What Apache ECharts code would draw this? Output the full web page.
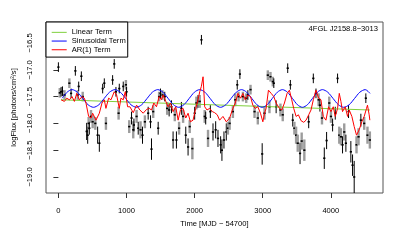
<!DOCTYPE html>
<html><head><meta charset="utf-8">
<script src="https://cdn.jsdelivr.net/npm/echarts@6/dist/echarts.min.js"></script>
<style>html,body{margin:0;padding:0;background:#fff}#c{width:407px;height:251px}</style>
</head><body><div id="c"></div>
<script>
// ---- data ----
const chartLabel = "4FGL J2158.8\u22123013";
const xTicks = [0, 1000, 2000, 3000, 4000];
const yTicks = [-16.5, -17.0, -17.5, -18.0, -18.5, -19.0];

const times = [0,20,40,60,90,161,186,249,283,298,337,357,
415,430,444,454,479,503,542,576,601,650,674,698,
796,820,845,884,894,952,991,1001,1040,1074,1099,1109,
1148,1172,1206,1235,1270,1318,1353,1367,1392,1465,1479,1499,
1528,1562,1597,1626,1660,1684,1709,1733,1772,1806,1831,1870,
1904,1928,1967,2001,2026,2050,2075,2100,2148,2163,2197,2231,
2270,2309,2343,2382,2401,2431,2465,2489,2514,2562,2597,2626,
2645,2665,2709,2758,2782,2821,2880,2928,2992,3026,3075,3099,
3114,3148,3163,3197,3260,3294,3367,3406,3441,3465,3490,3514,
3548,3572,3611,3675,3743,3782,3821,3840,3870,3904,3938,3977,
4002,4026,4065,4099,4124,4148,4172,4197,4221,4260,4294,4319,
4343,4377,4407,4441,4490,4514,4538,4573];

const logFlux = [-16.95,-17.43,-17.41,-17.40,-17.47,-17.25,-17.44,-17.02,-17.47,-17.31,-17.12,-17.50,
-18.15,-18.22,-18.00,-18.09,-17.87,-17.97,-18.00,-18.22,-18.37,-17.35,-17.25,-18.00,
-17.19,-16.89,-17.41,-17.81,-17.35,-17.31,-17.28,-17.41,-18.06,-17.90,-18.12,-18.03,
-17.87,-18.09,-18.12,-18.22,-17.97,-17.81,-17.97,-18.48,-17.78,-18.09,-17.50,-17.44,
-17.47,-17.50,-17.72,-17.75,-17.69,-18.31,-17.84,-18.31,-18.09,-17.72,-17.87,-18.22,
-18.44,-18.06,-18.47,-17.81,-17.62,-17.59,-17.59,-16.44,-17.87,-17.90,-18.28,-17.78,
-18.16,-18.12,-18.28,-18.40,-18.50,-18.31,-18.16,-18.09,-18.00,-17.78,-17.56,-17.28,
-17.50,-17.08,-17.50,-17.53,-17.47,-17.37,-17.78,-17.90,-18.57,-17.81,-17.10,-17.69,
-17.13,-17.22,-17.25,-17.69,-17.75,-17.84,-16.97,-17.28,-17.94,-18.09,-18.22,-18.37,
-18.56,-18.33,-18.50,-17.97,-17.16,-17.44,-17.56,-17.66,-17.90,-18.65,-18.32,-17.62,
-17.87,-18.03,-17.81,-17.16,-18.22,-18.25,-18.40,-18.16,-18.37,-17.78,-18.53,-18.78,
-19.00,-18.40,-18.25,-17.94,-18.00,-17.53,-18.22,-18.31];

const fluxErr = [0.09,0.09,0.09,0.09,0.09,0.09,0.09,0.09,0.09,0.09,0.09,0.09,
0.16,0.16,0.12,0.12,0.12,0.12,0.12,0.16,0.16,0.09,0.09,0.12,
0.09,0.09,0.09,0.12,0.09,0.09,0.09,0.09,0.12,0.12,0.16,0.12,
0.12,0.12,0.16,0.16,0.12,0.12,0.12,0.20,0.12,0.12,0.09,0.09,
0.09,0.09,0.12,0.12,0.12,0.16,0.12,0.16,0.12,0.12,0.12,0.16,
0.16,0.12,0.20,0.12,0.12,0.12,0.12,0.09,0.12,0.12,0.16,0.12,
0.16,0.16,0.16,0.16,0.20,0.16,0.16,0.12,0.12,0.12,0.12,0.09,
0.09,0.09,0.09,0.09,0.09,0.09,0.12,0.12,0.20,0.12,0.09,0.12,
0.09,0.09,0.09,0.12,0.12,0.12,0.09,0.09,0.12,0.12,0.16,0.16,
0.20,0.16,0.20,0.12,0.09,0.09,0.12,0.12,0.12,0.20,0.16,0.12,
0.12,0.12,0.12,0.09,0.16,0.16,0.16,0.16,0.16,0.12,0.20,0.20,
0.30,0.16,0.16,0.12,0.12,0.09,0.16,0.16];

// 1 = point drawn with a grey (wide) error bar, 0 = black error bar
const greyBar = [0,1,0,0,1,1,0,0,1,0,0,1,
0,0,1,0,1,1,1,0,0,0,0,1,
0,0,0,1,0,0,1,0,1,0,1,0,
1,0,1,0,1,0,0,0,1,0,1,0,
1,0,1,0,0,0,1,0,1,0,1,0,
0,1,1,0,1,0,1,0,1,0,1,0,
0,0,0,0,0,0,0,1,1,1,1,0,
1,0,1,1,0,1,1,1,0,1,1,1,
1,1,0,0,1,1,0,0,0,1,1,1,
0,1,1,0,0,0,1,0,1,0,0,1,
1,0,0,0,1,1,0,1,0,0,0,0,
0,1,1,0,1,0,1,1];

const linTimes = [40, 4573];
const linValues = [-17.56, -17.75];

const sinTimes = [55,128,200,279,358,436,515,594,672,751,830,909,988,1066,1145,1223,1302,1380,1459,1535,1612,1689,1766,1843,1920,1997,2074,2151,2228,2304,2381,2458,2535,2612,2689,2764,2840,2915,2990,3065,3140,3215,3290,3363,3437,3510,3583,3656,3730,3803,3876,3955,4033,4111,4190,4269,4348,4426,4505,4575];
const sinValues = [-17.53,-17.418,-17.37,-17.418,-17.535,-17.652,-17.70,-17.652,-17.535,-17.418,-17.37,-17.418,-17.535,-17.652,-17.70,-17.652,-17.535,-17.418,-17.37,-17.418,-17.535,-17.652,-17.70,-17.652,-17.535,-17.418,-17.37,-17.418,-17.535,-17.652,-17.70,-17.652,-17.535,-17.418,-17.37,-17.418,-17.535,-17.652,-17.70,-17.652,-17.535,-17.418,-17.37,-17.418,-17.535,-17.652,-17.70,-17.652,-17.535,-17.418,-17.37,-17.418,-17.535,-17.652,-17.70,-17.652,-17.535,-17.418,-17.37,-17.44];

const arTimes = [40,88,123,161,200,235,269,308,347,381,405,444,479,503,552,601,640,674,698,737,772,820,855,894,918,952,982,1016,
1050,1099,1148,1196,1245,1294,1333,1367,1401,1440,1479,1513,1538,1577,1611,1645,1684,1723,1758,1792,1831,1870,1904,1938,1977,2016,
2050,2075,2099,2124,2148,2182,2221,2260,2294,2333,2367,2416,2465,2514,2562,2597,2636,2675,2709,2743,2782,2821,2855,2889,2928,2967,
3002,3026,3050,3084,3124,3163,3197,3245,3280,3319,3358,3392,3426,3455,3490,3524,3563,3602,3636,3675,3709,3743,3782,3821,3855,3889,
3928,3967,4002,4036,4065,4099,4124,4148,4172,4211,4246,4270,4309,4343,4377,4416,4455,4490,4524,4538,4563,4573];
const arValues = [-17.56,-17.59,-17.53,-17.56,-17.50,-17.59,-17.44,-17.56,-17.50,-17.53,-17.62,-17.87,-17.90,-17.81,-17.94,-17.81,-17.62,-17.56,-17.72,-17.53,-17.56,-17.41,-17.47,-17.72,-17.53,-17.56,-17.41,-17.69,
-17.69,-17.80,-17.66,-17.75,-17.81,-17.74,-17.72,-17.75,-17.62,-17.69,-17.50,-17.56,-17.47,-17.59,-17.69,-17.62,-17.78,-17.69,-17.94,-17.75,-17.72,-17.90,-17.81,-17.97,-17.94,-17.72,
-17.56,-17.41,-17.31,-17.13,-17.69,-17.75,-17.72,-17.78,-17.80,-17.84,-17.94,-17.87,-17.97,-17.90,-17.72,-17.62,-17.44,-17.53,-17.44,-17.56,-17.47,-17.50,-17.66,-17.72,-17.69,-17.81,
-17.97,-17.81,-17.72,-17.38,-17.44,-17.50,-17.62,-17.72,-17.75,-17.62,-17.44,-17.38,-17.56,-17.72,-17.87,-17.84,-17.95,-17.98,-17.94,-17.84,-17.75,-17.56,-17.38,-17.53,-17.56,-17.87,
-17.94,-17.69,-17.78,-17.69,-17.87,-17.72,-17.44,-17.59,-17.78,-17.69,-17.87,-17.75,-17.87,-18.06,-18.22,-18.12,-17.97,-17.87,-17.72,-17.66,-17.84,-17.94];

// ---- build ----
const zip = (a, b) => a.slice(0, Math.min(a.length, b.length)).map((v, i) => [v, b[i]]);
const n = Math.min(times.length, logFlux.length, fluxErr.length);
const pts = [];
for (let i = 0; i < n; i++) pts.push([times[i], logFlux[i], fluxErr[i], greyBar[i] || 0]);

const FONT = "'Liberation Sans', Arial, Helvetica, sans-serif";
const FS = 7.6;
const fmtY = v => (v < 0 ? '\u2212' : '') + Math.abs(v).toFixed(1);
const fmtX = v => String(Math.round(v));

const chart = echarts.init(document.getElementById('c'), null, {renderer: 'canvas'});
chart.setOption({
  animation: false,
  backgroundColor: '#fff',
  textStyle: {fontFamily: FONT},
  title: {
    text: chartLabel, right: 29, top: 25, padding: 0,
    textStyle: {fontFamily: FONT, fontSize: FS, fontWeight: 'normal', color: '#000'}
  },
  grid: {left: 46, top: 22, width: 337, height: 171, show: true, borderColor: '#555', borderWidth: 1, backgroundColor: 'transparent'},
  legend: {
    left: 46, top: 22, orient: 'vertical', backgroundColor: '#fff',
    borderColor: '#000', borderWidth: 1, borderRadius: 0,
    padding: [6, 2, 3, 5.7], itemGap: 0, itemWidth: 15, itemHeight: 1,
    icon: 'rect',
    textStyle: {fontFamily: FONT, fontSize: FS, color: '#000', lineHeight: 8.7},
    data: ['Linear Term', 'Sinusoidal Term', 'AR(1) Term']
  },
  xAxis: {
    type: 'value', min: -182, max: 4766,
    name: 'Time [MJD \u2212 54700]', nameLocation: 'middle', nameGap: 23,
    nameTextStyle: {fontFamily: FONT, fontSize: FS, color: '#000'},
    axisLine: {show: false},
    splitLine: {show: false},
    axisTick: {show: true, inside: false, length: 5, customValues: xTicks, lineStyle: {color: '#333'}},
    axisLabel: {customValues: xTicks, margin: 14, fontFamily: FONT, fontSize: FS, color: '#000', formatter: fmtX}
  },
  yAxis: {
    type: 'value', min: -19.299, max: -16.108,
    name: 'logFlux [photons/cm\u00b2/s]', nameLocation: 'middle', nameGap: 25, nameRotate: 90,
    nameTextStyle: {fontFamily: FONT, fontSize: FS, color: '#000'},
    axisLine: {show: false},
    splitLine: {show: false},
    axisTick: {show: true, inside: false, length: 5, customValues: yTicks, lineStyle: {color: '#333'}},
    axisLabel: {customValues: yTicks, rotate: 90, margin: 12, fontFamily: FONT, fontSize: FS, color: '#000', formatter: fmtY}
  },
  series: [
    {
      type: 'custom', name: 'data', z: 2, clip: true,
      data: pts, encode: {x: 0, y: 1},
      renderItem: function (params, api) {
        const t = api.value(0), v = api.value(1), e = api.value(2), g = api.value(3);
        const c = api.coord([t, v]);
        const top = api.coord([t, v + e]);
        const bot = api.coord([t, v - e]);
        const bar = g
          ? {type: 'rect', shape: {x: c[0] - 1.2, y: top[1], width: 2.4, height: bot[1] - top[1]}, style: {fill: '#9c9c9c'}}
          : {type: 'line', shape: {x1: c[0], y1: top[1], x2: c[0], y2: bot[1]}, style: {stroke: '#000', lineWidth: 1}};
        return {
          type: 'group',
          children: [
            bar,
            {type: 'rect', shape: {x: c[0] - 1.1, y: c[1] - 0.8, width: 2.2, height: 1.6}, style: {fill: '#000'}}
          ]
        };
      }
    },
    {type: 'line', name: 'Linear Term', z: 3, data: zip(linTimes, linValues), showSymbol: false, symbol: 'none',
      lineStyle: {color: '#7fd03c', width: 1}, itemStyle: {color: '#7fd03c'}},
    {type: 'line', name: 'Sinusoidal Term', z: 4, data: zip(sinTimes, sinValues), showSymbol: false, symbol: 'none', smooth: 0.3,
      lineStyle: {color: '#0000ff', width: 1}, itemStyle: {color: '#0000ff'}},
    {type: 'line', name: 'AR(1) Term', z: 5, data: zip(arTimes, arValues), showSymbol: false, symbol: 'none',
      lineStyle: {color: '#ff0000', width: 1}, itemStyle: {color: '#ff0000'}}
  ]
});
</script></body></html>
